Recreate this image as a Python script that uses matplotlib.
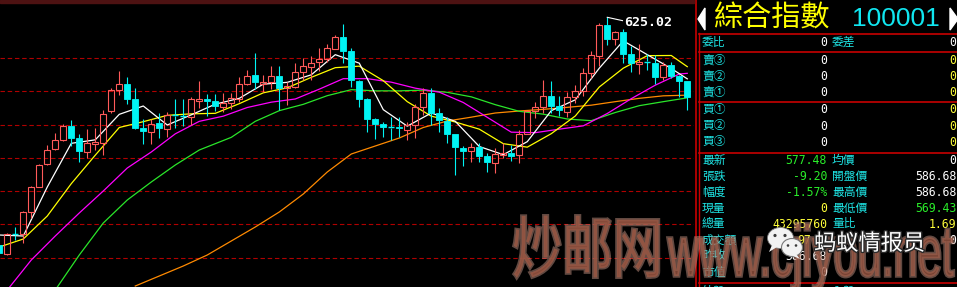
import numpy as np
import matplotlib
matplotlib.use('Agg')
import matplotlib.pyplot as plt
from matplotlib.patches import Rectangle, Polygon, Ellipse, PathPatch
from matplotlib.textpath import TextPath
from matplotlib.font_manager import FontProperties
from matplotlib.transforms import Affine2D
import matplotlib.patheffects as pe

# daily bars of the index, oldest first
opens = [488.4, 483.0, 495.3, 495.0, 508.2, 523.5, 537.0, 546.0, 551.7, 559.8,
         552.6, 544.5, 549.3, 549.6, 568.8, 581.4, 585.3, 576.0, 558.9, 556.5,
         561.6, 557.8, 566.7, 565.8, 565.5, 575.1, 576.0, 574.8, 571.0, 573.9,
         576.0, 585.0, 590.4, 585.3, 586.5, 590.1, 582.6, 583.5, 592.0, 595.5,
         598.2, 599.8, 606.3, 613.0, 604.8, 587.1, 576.0, 564.0, 561.3, 559.2,
         559.5, 557.7, 560.4, 571.2, 579.4, 567.6, 562.8, 555.0, 546.6, 544.6,
         547.2, 541.8, 537.9, 542.4, 543.4, 542.4, 555.0, 568.8, 571.4, 577.8,
         571.8, 568.5, 577.4, 580.8, 591.4, 602.1, 620.4, 611.8, 616.0, 603.0,
         597.3, 598.6, 597.4, 589.0, 596.7, 589.6, 586.68]
highs = [488.4, 495.6, 499.2, 508.8, 524.1, 537.0, 548.4, 555.6, 561.0, 563.4,
         555.3, 558.3, 558.6, 569.4, 582.4, 592.8, 589.2, 582.4, 564.3, 564.3,
         567.6, 568.2, 576.0, 576.3, 577.4, 586.8, 579.0, 579.0, 579.6, 579.6,
         589.2, 593.4, 603.4, 590.4, 596.0, 596.0, 586.4, 597.4, 600.6, 601.6,
         606.9, 609.0, 614.4, 620.8, 606.6, 587.4, 576.6, 564.6, 562.4, 565.2,
         565.2, 562.4, 573.2, 582.9, 582.9, 570.4, 565.2, 555.3, 548.0, 549.4,
         549.9, 543.6, 546.9, 549.8, 548.4, 557.4, 569.4, 574.2, 587.4, 586.8,
         577.8, 580.2, 584.4, 594.9, 604.8, 621.6, 625.02, 617.0, 618.3, 607.8,
         609.0, 602.8, 602.4, 598.5, 598.4, 590.4, 586.68]
lows = [483.6, 482.4, 491.4, 489.6, 504.6, 523.2, 536.7, 545.7, 550.8, 547.8,
        538.2, 540.9, 545.4, 542.4, 567.6, 578.4, 573.0, 558.0, 549.3, 549.3,
        552.6, 553.4, 558.6, 559.8, 560.4, 570.6, 565.8, 568.8, 568.2, 570.0,
        574.4, 584.4, 581.8, 580.2, 582.3, 569.7, 572.4, 582.4, 587.4, 587.4,
        592.8, 598.2, 606.0, 597.8, 583.2, 571.2, 556.4, 552.0, 553.2, 551.4,
        553.2, 551.4, 552.6, 566.4, 560.4, 556.4, 549.9, 530.4, 536.0, 538.4,
        538.4, 532.2, 531.4, 540.6, 538.8, 537.4, 555.0, 564.6, 567.9, 567.6,
        565.8, 565.5, 573.6, 577.8, 588.6, 595.8, 608.2, 608.4, 597.9, 592.2,
        591.0, 593.4, 585.0, 587.4, 588.6, 577.2, 569.43]
closes = [483.6, 495.0, 494.7, 508.2, 523.5, 536.7, 545.7, 551.7, 559.8, 552.9,
          544.8, 549.9, 550.2, 567.3, 581.4, 585.3, 576.3, 558.9, 557.1, 561.3,
          558.4, 566.2, 566.1, 565.5, 576.0, 576.0, 575.0, 571.8, 573.9, 576.6,
          584.8, 590.1, 586.4, 586.5, 590.1, 582.9, 583.8, 592.0, 595.8, 597.9,
          600.0, 606.4, 613.0, 605.0, 587.4, 576.0, 564.0, 561.0, 559.5, 558.9,
          558.6, 560.7, 571.4, 579.4, 567.9, 563.4, 555.3, 547.0, 545.0, 547.2,
          541.8, 538.0, 542.8, 543.4, 541.8, 555.0, 568.8, 571.4, 577.8, 571.8,
          569.4, 577.5, 581.0, 591.4, 602.4, 620.4, 612.2, 616.0, 603.3, 597.6,
          598.2, 598.2, 589.0, 596.2, 589.8, 586.68, 577.48]

# moving average lines at every third bar
ma5_idx = list(range(0, 85, 3)) + [86]
ma5 = [494.4, 493.8, 523.2, 549.4, 551.5, 566.8, 571.8, 560.4, 566.5, 572.9,
       576.4, 584.9, 586.0, 590.5, 602.6, 597.5, 569.6, 559.7, 567.6, 562.6,
       547.5, 542.6, 550.4, 569.0, 575.5, 594.5, 610.9, 602.6, 594.3, 588.1]
ma10_idx = list(range(0, 85, 3)) + [86]
ma10 = [487.2, 492.0, 505.8, 525.2, 542.3, 558.9, 562.4, 566.2, 567.1, 567.4,
        573.2, 579.7, 582.7, 589.0, 594.8, 595.7, 587.0, 574.4, 565.7, 562.2,
        557.9, 549.2, 547.1, 555.2, 565.8, 583.2, 594.5, 602.0, 602.1, 595.4]
ma20_idx = list(range(1, 86, 3)) + [86]
ma20 = [461.4, 479.4, 493.8, 507.6, 520.8, 534.6, 544.2, 555.1, 562.6, 565.7,
        570.9, 574.1, 576.0, 581.9, 588.2, 588.2, 586.1, 582.5, 580.1, 573.9,
        565.0, 556.1, 555.8, 557.9, 559.9, 567.3, 576.2, 584.3, 591.0, 591.4]
ma30_idx = [7, 10, 13, 16, 19, 22, 25] + list(range(29, 87, 3))
ma30 = [461.4, 482.4, 501.6, 515.4, 526.2, 536.4, 545.4, 553.0, 562.6, 569.0,
        572.8, 578.0, 581.6, 580.9, 580.9, 581.3, 580.0, 577.3, 572.6, 568.6,
        566.9, 564.0, 563.0, 567.9, 572.0, 574.4, 576.7]
ma60_idx = list(range(17, 87, 3))
ma60 = [463.8, 469.8, 475.8, 482.4, 490.8, 499.2, 508.2, 519.0, 532.2, 543.0,
        547.8, 552.6, 558.9, 562.8, 565.1, 567.6, 568.8, 569.8, 571.0, 572.3,
        574.4, 576.4, 577.9, 578.3]

grid_levels = [600.4, 580.8, 560.4, 540.6, 520.8, 501.0, 480.6]

# quote panel
title_name = '綜合指數'
title_code = '100001'
book_labels = ['賣③', '賣②', '賣①', '買①', '買②', '買③']
book_vol = ['0', '0', '0', '0', '0', '0']
book_diff = ['0', '0', '0', '0', '0', '0']
quote_labels = ['最新', '張跌', '幅度', '現量', '總量', '成交額', '昨收', '市值']
quote_values = ['577.48', '-9.20', '-1.57%', '0', '43295760', '', '586.68', '0']
quote_labels2 = ['均價', '開盤價', '最高價', '最低價', '量比', '', '', '']
quote_values2 = ['0', '586.68', '586.68', '569.43', '1.69', '0', '', '']

CYAN = '#00f4f4'
RED = '#ff5a5a'
LBL = '#1ee4e4'
GRN = '#2aee2a'
YEL = '#ffff3a'
BOX = '#c80000'
CJK = ['Noto Sans CJK TC', 'DejaVu Sans']
MONO = 'DejaVu Sans Mono'

W, H = 957, 287
fig = plt.figure(figsize=(W / 100, H / 100), dpi=100, facecolor='black')

# ---- candle chart ----
ax = fig.add_axes([0, 0, 694 / W, 284 / H])
ax.set_facecolor('black')
ax.set_xlim(0.09, 86.84)
ax.set_ylim(463.2, 633.6)
ax.set_xticks([])
ax.set_yticks([])
for sp in ax.spines.values():
    sp.set_visible(False)

for lv in grid_levels:
    ax.axhline(lv, color='#b00000', lw=0.8, ls=(0, (4, 2.5)), zorder=1)

for idx, vals, col in [(ma60_idx, ma60, '#ff8a00'), (ma30_idx, ma30, '#2ae62a'),
                       (ma20_idx, ma20, '#ff00ff'), (ma10_idx, ma10, '#ffff00'),
                       (ma5_idx, ma5, 'white')]:
    ax.plot(idx, vals, color=col, lw=0.9, zorder=2)

bw = 0.38
for i, (o, h, l, c) in enumerate(zip(opens, highs, lows, closes)):
    up = c > o
    col = RED if up else CYAN
    top, bot = max(o, c), min(o, c)
    ax.vlines(i, top, h, color=col, lw=0.8, zorder=3)
    ax.vlines(i, l, bot, color=col, lw=0.8, zorder=3)
    if top - bot < 0.7:
        ax.hlines((o + c) / 2, i - bw, i + bw, color=col, lw=1.0, zorder=3)
    elif up:
        ax.add_patch(Rectangle((i - bw, bot), 2 * bw, top - bot, fill=False,
                               ec=col, lw=0.8, zorder=3))
    else:
        ax.add_patch(Rectangle((i - bw, bot), 2 * bw, top - bot, fc=col,
                               ec=col, lw=0.6, zorder=3))

imax = int(np.argmax(highs))
ax.plot([imax, imax + 1.9], [highs[imax], highs[imax] - 2.0], color='white', lw=0.8, zorder=4)
ax.text(imax + 2.15, highs[imax] - 3.4, '%.2f' % highs[imax], color='white',
        fontsize=9.5, family=MONO, fontweight='bold', va='center', ha='left', zorder=4)

# ---- quote panel, pixel coordinates ----
pax = fig.add_axes([694 / W, 0, 263 / W, 1])
pax.set_xlim(694, 957)
pax.set_ylim(287, 0)
pax.axis('off')

pax.plot([696, 696], [0, 287], color=BOX, lw=1.2)
pax.plot([698.5, 698.5], [33, 287], color=BOX, lw=1.0)
for yy in [33.5, 51.5, 101.5, 152.5, 282.5]:
    pax.plot([698.5, 957], [yy, yy], color=BOX, lw=1.2)

pax.add_patch(Polygon([[698, 19], [705, 8], [705, 30]], color='white'))
pax.add_patch(Polygon([[950, 8], [958, 19], [950, 30]], color='white'))
pax.text(713, 18.5, title_name, color='#ffff00', fontsize=21, family=CJK, va='center', ha='left')
pax.text(852, 19.5, title_code, color='#10e6f0', fontsize=19, family='Liberation Sans',
         va='center', ha='left')


def label(x, y, s, color=LBL, **kw):
    pax.text(x, y, s, color=color, fontsize=8.5, family=CJK, va='center', ha='left', **kw)


def number(x, y, s, color='white', ha='right', **kw):
    pax.text(x, y, s, color=color, fontsize=8.3, family=MONO, va='center', ha=ha, **kw)


label(702, 42.5, '委比')
number(827, 42.5, '0')
label(832, 42.5, '委差')
number(956, 42.5, '0')

book_y = [60, 76.5, 92, 109.5, 126, 142]
for lab, v1, v2, y in zip(book_labels, book_vol, book_diff, book_y):
    label(702, y, lab)
    number(827, y, v1)
    number(956, y, v2, YEL)

quote_y = [160.5, 176, 192, 208, 224, 240, 256, 272.5]
col1 = [GRN, GRN, GRN, YEL, YEL, YEL, 'white', 'white']
col2 = ['white', 'white', 'white', GRN, YEL, 'white', 'white', 'white']
for lab, v, c, lab2, v2, c2, y in zip(quote_labels, quote_values, col1,
                                       quote_labels2, quote_values2, col2, quote_y):
    label(702, y, lab)
    if v:
        number(827, y, v, c)
    if lab2:
        label(832, y, lab2)
    if v2:
        number(956, y, v2, c2)
number(797, 240, '97', YEL, ha='left')
label(702, 291.5, '外盤', clip_on=True)
label(832, 291.5, '內盤', clip_on=True)

# ---- watermark overlay ----
wax = fig.add_axes([0, 0, 1, 1], zorder=10)
wax.set_xlim(0, W)
wax.set_ylim(H, 0)
wax.axis('off')
wax.add_patch(Rectangle((0, 0), 694, 3, color='#4d1212'))


def squeezed(s, x, y, size, sx, family, **kw):
    tp = TextPath((0, 0), s, size=size, prop=FontProperties(family=family))
    path = Affine2D().scale(sx, -1).translate(x, y).transform_path(tp)
    wax.add_patch(PathPatch(path, **kw))


glow = [pe.Stroke(linewidth=2.5, foreground='#c49282', alpha=0.5), pe.Normal()]
squeezed('炒邮网', 512, 272, 67, 0.75, 'Noto Sans CJK SC', fc='#94523f', ec='none',
         alpha=0.8, path_effects=glow)
squeezed('www.cjiyou.net', 668, 276, 72, 0.6, 'Liberation Sans', fc='#94523f', ec='none',
         alpha=0.62, path_effects=glow)

wax.add_patch(Ellipse((780.5, 238), 26, 21, fc='#f2f2f2', ec='#777777', lw=0.6))
wax.add_patch(Polygon([[772, 245], [769, 252], [777, 247]], fc='#f2f2f2', ec='none'))
for ex in (775, 785):
    wax.add_patch(Ellipse((ex, 235.5), 3.2, 3.2, fc='#3a3a3a'))
wax.add_patch(Ellipse((792, 247.5), 21, 18, fc='#f2f2f2', ec='#777777', lw=0.8))
wax.add_patch(Polygon([[796, 254], [800, 259], [792, 255.5]], fc='#f2f2f2', ec='none'))
for ex in (788, 796):
    wax.add_patch(Ellipse((ex, 245.5), 2.6, 2.6, fc='#3a3a3a'))
wax.text(814, 243.5, '蚂蚁情报员', color='white', fontsize=16,
         family=['Noto Sans CJK SC', 'DejaVu Sans'], va='center', ha='left',
         path_effects=[pe.withStroke(linewidth=2, foreground='#2a2a2a')])

fig.savefig('out.png', dpi=100, facecolor='black')
